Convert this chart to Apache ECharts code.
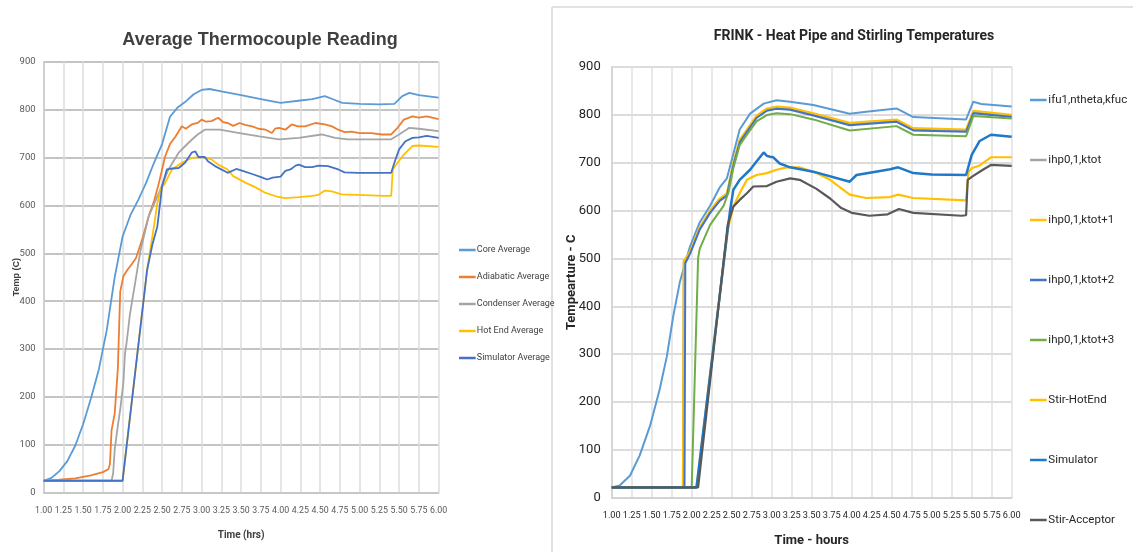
<!DOCTYPE html>
<html><head><meta charset="utf-8">
<script src="https://cdn.jsdelivr.net/npm/echarts@6/dist/echarts.min.js"></script>
<style>html,body{margin:0;padding:0;background:#fff}#c{width:1133px;height:552px}</style>
</head><body><div id="c"></div><script>
// ---------- LEFT: Average Thermocouple Reading ----------
const coreT = [1.00,1.10,1.20,1.30,1.40,1.50,1.60,1.70,1.80,1.90,2.00,2.10,2.20,2.25,2.30,2.40,2.50,2.60,2.70,2.80,2.90,3.00,3.10,3.25,3.50,3.75,4.00,4.25,4.40,4.56,4.67,4.78,5.00,5.25,5.44,5.54,5.63,5.75,6.00];
const coreV = [25,31,45,66,98,143,197,258,340,450,535,580,612,630,648,690,728,785,805,817,832,841,843,838,830,822,814,819,822,828,821,814,812,811,812,828,835,830,825];

const adiaT = [1.00,1.20,1.40,1.60,1.75,1.82,1.84,1.86,1.90,1.94,1.97,2.01,2.06,2.12,2.17,2.25,2.33,2.40,2.46,2.54,2.60,2.67,2.75,2.80,2.875,2.95,3.00,3.05,3.125,3.21,3.27,3.33,3.40,3.48,3.55,3.64,3.72,3.81,3.89,3.93,3.98,4.06,4.14,4.22,4.31,4.44,4.56,4.65,4.73,4.81,4.90,5.00,5.15,5.28,5.40,5.48,5.56,5.67,5.75,5.85,6.00];
const adiaV = [25,27,30,36,43,49,60,130,165,260,420,452,465,478,490,530,577,610,647,703,728,744,765,760,769,772,779,775,776,783,774,772,766,772,768,765,760,758,751,760,762,758,769,765,765,772,769,765,758,753,754,751,751,748,748,762,779,786,783,786,780];

const condT = [1.00,1.86,1.88,1.90,1.94,1.97,2.01,2.03,2.05,2.07,2.09,2.12,2.16,2.20,2.23,2.33,2.46,2.58,2.71,2.80,2.875,2.95,3.04,3.23,3.48,3.73,3.98,4.23,4.52,4.69,4.85,5.10,5.40,5.50,5.63,5.75,6.00];
const condV = [25,25,40,90,140,174,230,290,313,340,369,400,439,480,508,577,626,675,710,725,737,748,758,758,751,744,738,741,748,741,738,738,738,748,762,760,755];

const hotT = [1.00,2.00,2.31,2.40,2.44,2.48,2.54,2.625,2.75,2.875,3.00,3.125,3.21,3.33,3.40,3.56,3.69,3.81,3.94,4.06,4.23,4.40,4.48,4.56,4.65,4.77,4.98,5.31,5.40,5.42,5.48,5.56,5.67,5.75,6.00];
const hotV = [25,25,465,560,605,633,647,675,689,699,701,696,685,675,661,647,637,626,619,615,617,620,622,631,629,623,622,620,620,675,689,706,724,725,722];

const simT = [1.00,2.00,2.31,2.38,2.44,2.50,2.56,2.63,2.71,2.79,2.875,2.92,2.96,3.04,3.08,3.17,3.33,3.44,3.52,3.65,3.77,3.83,3.90,4.00,4.06,4.125,4.19,4.23,4.31,4.40,4.48,4.60,4.73,4.81,4.98,5.23,5.40,5.44,5.50,5.58,5.67,5.75,5.85,6.00];
const simV = [25,25,465,520,556,640,675,677,678,689,710,713,701,701,692,682,668,676,672,665,658,654,658,660,672,675,683,685,680,680,683,682,675,669,668,668,668,689,717,734,741,742,745,741];

// ---------- RIGHT: FRINK ----------
const ifuT = [1.00,1.10,1.23,1.35,1.48,1.60,1.69,1.77,1.85,1.92,1.98,2.10,2.23,2.35,2.44,2.50,2.60,2.73,2.90,3.06,3.23,3.52,3.975,4.18,4.56,4.77,5.43,5.52,5.62,6.00];
const ifuV = [22,26,47,89,151,227,296,380,449,492,525,575,610,648,667,705,769,802,823,830,827,820,802,806,813,795,790,827,822,817];

const clusterT = [1.00,1.89,1.90,1.98,2.10,2.23,2.35,2.44,2.52,2.60,2.69,2.81,2.94,3.06,3.23,3.52,3.975,4.56,4.77,5.43,5.52,6.00];
const ktotV  = [22,22,493,512,562,597,622,633,697,745,766,795,810,814,812,800,780,787,769,766,805,797];
const ktot1V = [22,22,495,515,565,600,625,636,700,748,769,798,813,817,815,803,783,790,772,769,808,800];
const ktot2T = [1.00,1.91,1.92,1.98,2.10,2.23,2.35,2.44,2.52,2.60,2.69,2.81,2.94,3.06,3.23,3.52,3.975,4.56,4.77,5.43,5.52,6.00];
const ktot2V = [22,22,490,510,560,595,620,631,694,742,764,793,808,812,810,798,778,785,767,764,803,795];
const ktot3T = [1.00,2.00,2.08,2.10,2.23,2.40,2.46,2.52,2.60,2.69,2.81,2.94,3.06,3.23,3.52,3.975,4.56,4.77,5.43,5.52,6.00];
const ktot3V = [22,22,500,520,570,610,638,688,736,758,786,799,803,801,790,767,776,758,755,797,792];

const stirHotT = [1.00,2.06,2.45,2.52,2.60,2.69,2.81,2.94,3.06,3.19,3.35,3.56,3.73,3.975,4.18,4.48,4.58,4.77,5.43,5.46,5.50,5.60,5.74,6.00];
const stirHotV = [22,22,560,608,636,664,674,678,685,690,690,678,664,633,626,628,633,626,621,680,688,694,711,711];

const rsimT = [1.00,2.06,2.45,2.48,2.52,2.60,2.73,2.81,2.90,2.94,2.98,3.02,3.10,3.23,3.52,3.975,4.06,4.30,4.48,4.58,4.77,5.00,5.43,5.50,5.60,5.74,6.00];
const rsimV = [22,22,560,600,643,664,685,702,721,714,712,711,698,690,681,660,674,681,686,690,678,675,674,716,745,758,754];

const accT = [1.00,2.08,2.45,2.52,2.60,2.69,2.77,2.94,3.06,3.23,3.35,3.56,3.73,3.87,4.00,4.22,4.45,4.59,4.77,5.37,5.43,5.45,5.51,5.64,5.74,6.00];
const accV = [22,22,570,608,622,636,650,651,660,667,664,645,625,605,595,589,592,603,595,589,590,664,671,685,695,693];

const leftNames = ['Core Average','Adiabatic Average','Condenser Average','Hot End Average','Simulator Average'];
const rightNames = ['ifu1,ntheta,kfuc','ihp0,1,ktot','ihp0,1,ktot+1','ihp0,1,ktot+2','ihp0,1,ktot+3','Stir-HotEnd','Simulator','Stir-Acceptor'];

const zip = (t, v) => t.map((x, i) => [x, v[i]]);
const NARROW = "Roboto, 'Liberation Sans', sans-serif";

function ln(name, t, v, color, width, axis) {
  return { name, type: 'line', xAxisIndex: axis, yAxisIndex: axis, data: zip(t, v),
    showSymbol: false, symbol: 'none', smooth: false, color,
    itemStyle: { color }, lineStyle: { color, width }, emphasis: { disabled: true } };
}

const chart = echarts.init(document.getElementById('c'));
const icon = 'path://M0,0 L20,0 L20,3 L0,3 Z';
chart.setOption({
  animation: false,
  backgroundColor: '#fff',
  title: [
    { text: 'Average Thermocouple Reading', left: 255, top: 26, textAlign: 'center',
      textStyle: { fontFamily: "'Liberation Sans', Arial, sans-serif", fontWeight: 'bold', fontSize: 18, color: '#404040' } },
    { text: 'FRINK - Heat Pipe and Stirling Temperatures', left: 849, top: 24, textAlign: 'center',
      textStyle: { fontFamily: NARROW, fontWeight: 'bold', fontSize: 14, color: '#262626' } }
  ],
  grid: [
    { left: 43.6, top: 61.7, width: 395, height: 431, containLabel: false },
    { left: 611.7, top: 66.7, width: 400, height: 432.6, containLabel: false }
  ],
  xAxis: [
    { gridIndex: 0, type: 'value', min: 1, max: 6, interval: 0.25, name: 'Time (hrs)', nameLocation: 'middle', nameGap: 38,
      nameMoveOverlap: false,
      nameTextStyle: { fontFamily: NARROW, fontWeight: 'bold', fontSize: 10, color: '#404040' },
      axisLine: { show: true, lineStyle: { color: '#c8c8c8', width: 1.5 } }, axisTick: { show: false },
      axisLabel: { formatter: v => v.toFixed(2), margin: 14, fontFamily: NARROW, fontSize: 8.8, color: '#595959',
        hideOverlap: false, showMinLabel: true, showMaxLabel: true },
      splitLine: { show: true, lineStyle: { color: '#dcdcdc', width: 1.5 } } },
    { gridIndex: 1, type: 'value', min: 1, max: 6, interval: 0.25, name: 'Time - hours', nameLocation: 'middle', nameGap: 36,
      nameMoveOverlap: false,
      nameTextStyle: { fontFamily: NARROW, fontWeight: 'bold', fontSize: 13, color: '#262626' },
      axisLine: { show: true, lineStyle: { color: '#d0d0d0', width: 1.5 } }, axisTick: { show: false },
      axisLabel: { formatter: v => v.toFixed(2), margin: 13, fontFamily: NARROW, fontSize: 9.2, color: '#262626',
        hideOverlap: false, showMinLabel: true, showMaxLabel: true },
      splitLine: { show: true, lineStyle: { color: '#e0e0e0', width: 1.5 } } }
  ],
  yAxis: [
    { gridIndex: 0, type: 'value', min: 0, max: 900, interval: 100, name: 'Temp (C)', nameLocation: 'middle', nameGap: 23, nameRotate: 90,
      nameMoveOverlap: false,
      nameTextStyle: { fontFamily: "'Liberation Sans', Arial, sans-serif", fontWeight: 'bold', fontSize: 9, color: '#404040' },
      axisLine: { show: true, lineStyle: { color: '#c8c8c8', width: 1.5 } }, axisTick: { show: false },
      axisLabel: { margin: 8, fontFamily: NARROW, fontSize: 9.5, color: '#595959' },
      splitLine: { show: true, lineStyle: { color: '#c4c4c4', width: 1.8 } } },
    { gridIndex: 1, type: 'value', min: 0, max: 900, interval: 100, name: 'Tempearture - C', nameLocation: 'middle', nameGap: 33, nameRotate: 90,
      nameMoveOverlap: false,
      nameTextStyle: { fontFamily: NARROW, fontWeight: 'bold', fontSize: 13, color: '#262626' },
      axisLine: { show: true, lineStyle: { color: '#d0d0d0', width: 1.5 } }, axisTick: { show: false },
      axisLabel: { margin: 11, fontFamily: NARROW, fontSize: 13, color: '#262626' },
      splitLine: { show: true, lineStyle: { color: '#dcdcdc', width: 1.8 } } }
  ],
  legend: [
    { data: leftNames, orient: 'vertical', left: 459, top: 244, padding: 0, itemGap: 15, itemWidth: 17, itemHeight: 2.5, icon,
      textStyle: { fontFamily: NARROW, fontSize: 9, color: '#404040', lineHeight: 12, padding: [0,0,0,-4] }, selectedMode: false },
    { data: rightNames, orient: 'vertical', left: 1030, top: 92, padding: 0, itemGap: 44, itemWidth: 18, itemHeight: 2.5, icon,
      textStyle: { fontFamily: NARROW, fontSize: 11.5, color: '#262626', lineHeight: 16, padding: [0,0,0,-4] }, selectedMode: false }
  ],
  graphic: [
    { type: 'line', shape: { x1: 552, y1: 7, x2: 552, y2: 552 }, style: { stroke: '#d9d9d9', lineWidth: 1.5 } },
    { type: 'line', shape: { x1: 552, y1: 7, x2: 1133, y2: 7 }, style: { stroke: '#d9d9d9', lineWidth: 1.5 } }
  ],
  series: [
    ln(leftNames[0], coreT, coreV, '#5B9BD5', 1.8, 0),
    ln(leftNames[1], adiaT, adiaV, '#ED7D31', 1.8, 0),
    ln(leftNames[2], condT, condV, '#A5A5A5', 1.8, 0),
    ln(leftNames[3], hotT, hotV, '#FFC000', 1.8, 0),
    ln(leftNames[4], simT, simV, '#4472C4', 1.8, 0),
    ln(rightNames[0], ifuT, ifuV, '#5B9BD5', 2, 1),
    ln(rightNames[1], clusterT, ktotV, '#A5A5A5', 2, 1),
    ln(rightNames[2], clusterT, ktot1V, '#FFC000', 2, 1),
    ln(rightNames[3], ktot2T, ktot2V, '#4472C4', 2, 1),
    ln(rightNames[4], ktot3T, ktot3V, '#70AD47', 2, 1),
    ln(rightNames[5], stirHotT, stirHotV, '#FFC000', 2.2, 1),
    ln(rightNames[6], rsimT, rsimV, '#1F78C8', 2.5, 1),
    ln(rightNames[7], accT, accV, '#595959', 2.2, 1)
  ]
});
</script></body></html>
